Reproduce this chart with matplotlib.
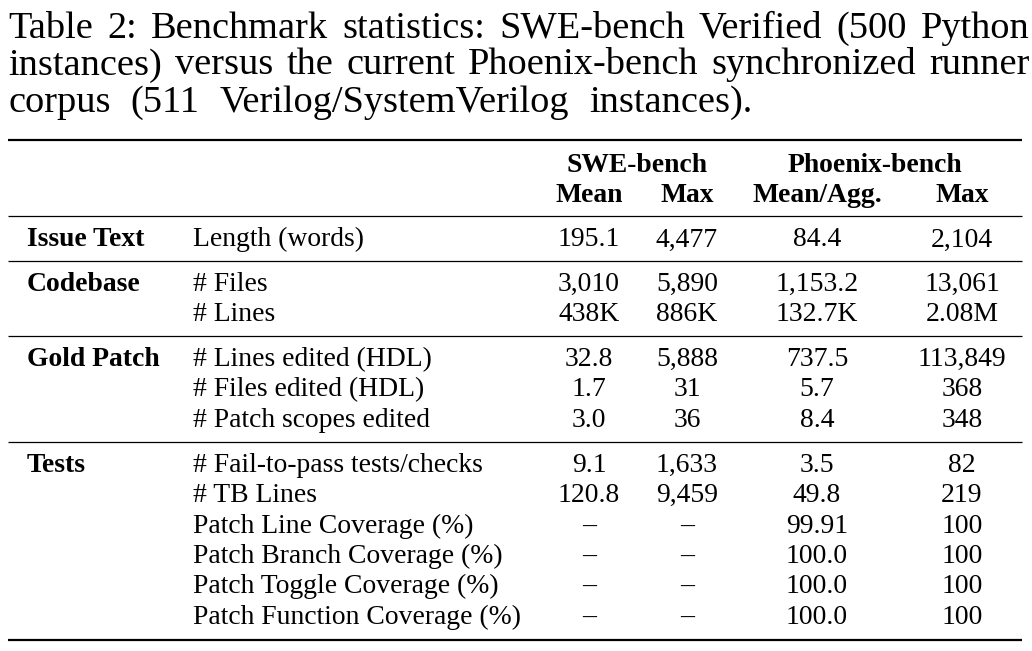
import matplotlib
matplotlib.use("Agg")
import matplotlib.pyplot as plt

caption_lines = [
    "Table 2: Benchmark statistics: SWE-bench Verified (500 Python",
    "instances) versus the current Phoenix-bench synchronized runner",
    "corpus (511 Verilog/SystemVerilog instances).",
]
group_headers = ["SWE-bench", "Phoenix-bench"]
col_headers = ["Mean", "Max", "Mean/Agg.", "Max"]

sections = ["Issue Text", "Codebase", "Gold Patch", "Tests"]
metrics = [
    ["Length (words)"],
    ["# Files", "# Lines"],
    ["# Lines edited (HDL)", "# Files edited (HDL)", "# Patch scopes edited"],
    ["# Fail-to-pass tests/checks", "# TB Lines", "Patch Line Coverage (%)",
     "Patch Branch Coverage (%)", "Patch Toggle Coverage (%)",
     "Patch Function Coverage (%)"],
]
swe_mean = [["195.1"], ["3,010", "438K"], ["32.8", "1.7", "3.0"],
            ["9.1", "120.8", "\u2013", "\u2013", "\u2013", "\u2013"]]
swe_max = [["4,477"], ["5,890", "886K"], ["5,888", "31", "36"],
           ["1,633", "9,459", "\u2013", "\u2013", "\u2013", "\u2013"]]
phx_mean = [["84.4"], ["1,153.2", "132.7K"], ["737.5", "5.7", "8.4"],
            ["3.5", "49.8", "99.91", "100.0", "100.0", "100.0"]]
phx_max = [["2,104"], ["13,061", "2.08M"], ["113,849", "368", "348"],
           ["82", "219", "100", "100", "100", "100"]]

W, H = 1032, 651
fig = plt.figure(figsize=(W / 100, H / 100), dpi=100)
ax = fig.add_axes([0, 0, 1, 1])
ax.set_xlim(0, W)
ax.set_ylim(H, 0)
ax.axis("off")

FONT = "Liberation Serif"
cap_fs = 27.6
tab_fs = 19.9

renderer = fig.canvas.get_renderer()

# caption, words spread across each line as in the reference
cap_left = 8
cap_right = [1030, 1030, 752]
cap_base = [37.5, 74.5, 111.5]
for i, line in enumerate(caption_lines):
    y = cap_base[i]
    words = line.split(" ")
    texts = [ax.text(0, y, w, fontsize=cap_fs, family=FONT, ha="left",
                     va="baseline") for w in words]
    widths = [t.get_window_extent(renderer).width for t in texts]
    gap = (cap_right[i] - cap_left - sum(widths)) / (len(words) - 1)
    x = cap_left
    for t, w in zip(texts, widths):
        t.set_x(x)
        x += w + gap

x_left, x_right = 8, 1022
col_x = [589, 687, 817, 962]
grp_x = [637, 875]

# rules
ax.hlines(140, x_left, x_right, color="black", lw=1.6)
ax.hlines(216, x_left, x_right, color="black", lw=0.9)
ax.hlines(640, x_left, x_right, color="black", lw=1.6)

# headers
for gx, g in zip(grp_x, group_headers):
    ax.text(gx, 172, g, fontsize=tab_fs, family=FONT, weight="bold",
            ha="center", va="baseline")
for cx, c in zip(col_x, col_headers):
    ax.text(cx, 202, c, fontsize=tab_fs, family=FONT, weight="bold",
            ha="center", va="baseline")

# body
row_h = 30.3
section_start = [246.5, 291, 366, 472]
sep_y = [260.5, 335.5, 442]
for s, sec in enumerate(sections):
    y0 = section_start[s]
    ax.text(27, y0, sec, fontsize=tab_fs, family=FONT, weight="bold",
            ha="left", va="baseline")
    for r, m in enumerate(metrics[s]):
        y = y0 + r * row_h
        ax.text(193, y, m, fontsize=tab_fs, family=FONT, ha="left",
                va="baseline")
        vals = [swe_mean[s][r], swe_max[s][r], phx_mean[s][r], phx_max[s][r]]
        for cx, v in zip(col_x, vals):
            ax.text(cx, y, v, fontsize=tab_fs, family=FONT, ha="center",
                    va="baseline")
    if s < len(sep_y):
        ax.hlines(sep_y[s], x_left, x_right, color="black", lw=0.9)

fig.savefig("out.png", dpi=100)
